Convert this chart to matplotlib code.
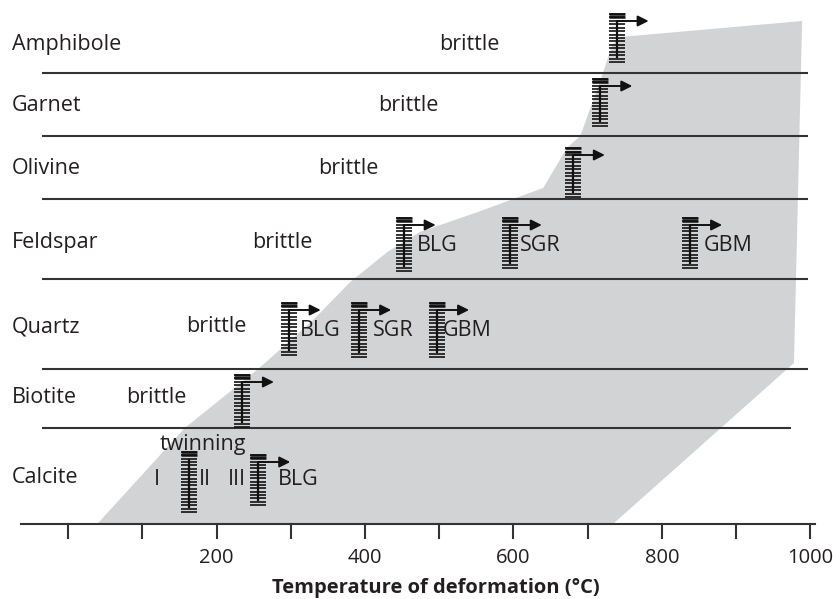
import numpy as np
import matplotlib
matplotlib.use("Agg")
import matplotlib.pyplot as plt

plt.rcParams['font.family'] = ['Open Sans', 'DejaVu Sans']

# ---------------- data ----------------
rows = ['Amphibole', 'Garnet', 'Olivine', 'Feldspar', 'Quartz', 'Biotite', 'Calcite']
row_baseline = [50, 111, 174, 248, 332, 403, 483]
separator_y = [72.7, 136, 199, 279, 369, 428]
separator_end_T = [997, 997, 997, 997, 997, 974]

brittle_T = [541, 458, 377, 289, 200, 118]
brittle_y = [50, 111, 174, 248, 332, 403]

# ductile field (temperature, vertical position)
field_T = [39, 157, 256, 330, 380, 430, 474, 552, 640, 672, 690, 706, 721, 733, 744, 989, 978, 734]
field_y = [524, 428, 369, 320, 282, 252, 232, 212, 188, 148, 136, 103, 72, 45, 37, 21, 363, 524]

# transition markers
marker_T = [739, 717, 680, 452, 595, 838, 297, 392, 497, 234, 163, 256]
marker_top = [14, 79, 148, 218, 218, 218, 303, 303, 303, 375, 452, 455]
marker_bot = [62, 126, 197, 271, 268, 268, 355, 357, 357, 427, 512, 505]
marker_arrow = [True, True, True, True, True, True, True, True, True, True, False, True]

proc_labels = ['BLG', 'SGR', 'GBM', 'BLG', 'SGR', 'GBM', 'BLG']
proc_T = [470, 609, 856, 312, 411, 504, 283]
proc_y = [251, 251, 251, 336, 336, 336, 485]

calcite_texts = ['twinning', 'I', 'II', 'III']
calcite_T = [182, 119.5, 184, 227]
calcite_y = [450, 485, 485, 485]

tick_T = list(range(0, 1001, 100))
tick_labels = {200: '200', 400: '400', 600: '600', 800: '800', 1000: '1000'}
axis_y = 524
xlabel = 'Temperature of deformation (°C)'

# ---------------- figure ----------------
W, H = 833, 599
fig = plt.figure(figsize=(W / 100, H / 100), dpi=100)
ax = fig.add_axes([0, 0, 1, 1])
px_per_deg = 0.742
x0 = 68.3
ax.set_xlim(-x0 / px_per_deg, (W - x0) / px_per_deg)
ax.set_ylim(H, 0)
ax.axis('off')

txt = '#231f20'
line_c = '#333333'
fs = 15.5

ax.fill(field_T, field_y, color='#d1d3d4', lw=0, zorder=1)

for y, xe in zip(separator_y, separator_end_T):
    ax.plot([-35.4, xe], [y, y], color=line_c, lw=1.5, zorder=2, solid_capstyle='butt')

for name, yb in zip(rows, row_baseline):
    ax.text(-75.9, yb, name, fontsize=fs, color=txt, ha='left', va='baseline', zorder=5)

for t, yb in zip(brittle_T, brittle_y):
    ax.text(t, yb, 'brittle', fontsize=fs, color=txt, ha='center', va='baseline', zorder=5)

hw = 8 / px_per_deg
for t, top, bot, arr in zip(marker_T, marker_top, marker_bot, marker_arrow):
    n = int(round((bot - top) / 3.4)) + 1
    ys = np.linspace(top, bot, n)
    ax.hlines(ys, t - hw, t + hw, color='#111111', lw=1.2, zorder=3)
    ax.hlines(ys[:2], t - hw, t + hw, color='#111111', lw=1.8, zorder=3)
    ax.vlines(t, top + 7, bot - 4, color='#111111', lw=1.6, zorder=4)
    if arr:
        ax.annotate('', xy=(t + 32 / px_per_deg, top + 7), xytext=(t, top + 7),
                    arrowprops=dict(arrowstyle='-|>', lw=1.4, color='#111111',
                                    mutation_scale=16, shrinkA=0, shrinkB=0),
                    zorder=4)

for lab, t, yb in zip(proc_labels, proc_T, proc_y):
    ax.text(t, yb, lab, fontsize=fs, color=txt, ha='left', va='baseline', zorder=5)

for lab, t, yb in zip(calcite_texts, calcite_T, calcite_y):
    ax.text(t, yb, lab, fontsize=fs, color=txt, ha='center', va='baseline', zorder=5)

# temperature axis
ax.plot([-63.6, 1006], [axis_y, axis_y], color=line_c, lw=1.5, zorder=2)
for t in tick_T:
    ax.plot([t, t], [axis_y, axis_y + 14], color=line_c, lw=1.5, zorder=2)
    if t in tick_labels:
        ax.text(t, 563, tick_labels[t], fontsize=14.5, color=txt, ha='center', va='baseline')

ax.text(495, 593, xlabel, fontsize=14.5, fontweight='bold', color=txt,
        ha='center', va='baseline')

fig.savefig('out.png', dpi=100)
